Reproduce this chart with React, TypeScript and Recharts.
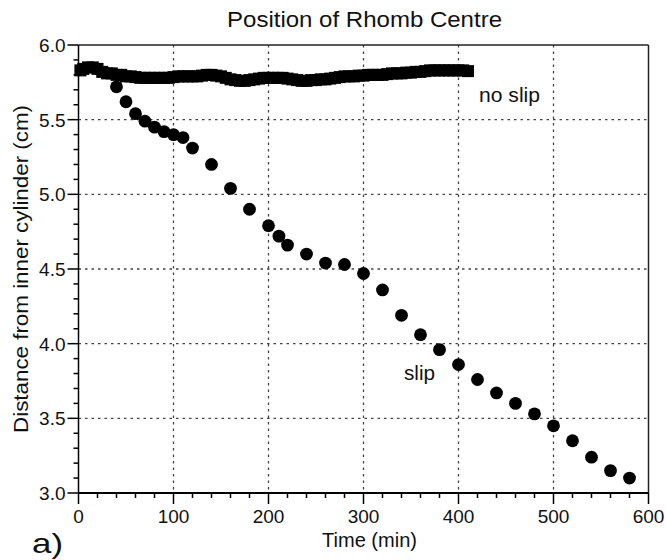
import { ScatterChart, Scatter, XAxis, YAxis, CartesianGrid, ReferenceLine } from 'recharts';

// no slip run (dense record, min -> cm)
const noSlipTime = [
  2, 5, 10, 15, 20, 25, 30, 35, 40, 45,
  50, 55, 60, 65, 70, 75, 80, 85, 90, 95,
  100, 105, 110, 115, 120, 125, 130, 135, 140, 145,
  150, 155, 160, 165, 170, 175, 180, 185, 190, 195,
  200, 205, 210, 215, 220, 225, 230, 235, 240, 245,
  250, 255, 260, 265, 270, 275, 280, 285, 290, 295,
  300, 305, 310, 315, 320, 325, 330, 335, 340, 345,
  350, 355, 360, 365, 370, 375, 380, 385, 390, 395,
  400, 405, 410,
];
const noSlipDist = [
  5.83, 5.84, 5.85, 5.85, 5.84, 5.82, 5.81, 5.81, 5.80, 5.80,
  5.79, 5.79, 5.785, 5.78, 5.78, 5.78, 5.78, 5.78, 5.78, 5.78,
  5.785, 5.79, 5.79, 5.79, 5.79, 5.79, 5.795, 5.80, 5.80, 5.795,
  5.79, 5.78, 5.77, 5.765, 5.76, 5.76, 5.765, 5.77, 5.775, 5.78,
  5.78, 5.78, 5.78, 5.78, 5.775, 5.77, 5.765, 5.76, 5.76, 5.765,
  5.765, 5.77, 5.77, 5.775, 5.78, 5.785, 5.79, 5.79, 5.79, 5.795,
  5.795, 5.80, 5.80, 5.80, 5.80, 5.805, 5.81, 5.81, 5.81, 5.815,
  5.815, 5.82, 5.82, 5.825, 5.83, 5.83, 5.83, 5.83, 5.83, 5.83,
  5.83, 5.83, 5.825,
];

// slip run
const slipTime = [40, 50, 60, 70, 80, 90, 100, 110, 120, 140, 160, 180, 200, 211, 220, 240, 260, 280, 300, 320, 340, 360, 380, 400, 420, 440, 460, 480, 500, 520, 540, 560, 580];
const slipDist = [5.72, 5.62, 5.54, 5.49, 5.45, 5.42, 5.40, 5.38, 5.31, 5.20, 5.04, 4.90, 4.79, 4.72, 4.66, 4.60, 4.54, 4.53, 4.47, 4.36, 4.19, 4.06, 3.96, 3.86, 3.76, 3.67, 3.60, 3.53, 3.45, 3.35, 3.24, 3.15, 3.10];

const xGrid = [100, 200, 300, 400, 500];
const yGrid = [3.5, 4.0, 4.5, 5.0, 5.5];
const xTicks = Array.from({ length: 31 }, (_, i) => i * 20);
const yTicks = Array.from({ length: 31 }, (_, i) => +(3 + i * 0.1).toFixed(1));

const FONT = '"Liberation Sans", Arial, Helvetica, sans-serif';

const noSlipData = noSlipTime.map((t, i) => ({ t, d: noSlipDist[i] }));
const slipData = slipTime.map((t, i) => ({ t, d: slipDist[i] }));

const XTick = (props: any) => {
  const { x, y, payload } = props;
  const major = payload.value % 100 === 0;
  return (
    <g>
      <line x1={x} x2={x} y1={y} y2={y + (major ? 11 : 5)} stroke="#000" strokeWidth={1.5} />
      {major && (
        <text x={x} y={y + 30} textAnchor="middle" fontSize={19} fill="#111" fontFamily={FONT}>
          {payload.value}
        </text>
      )}
    </g>
  );
};

const YTick = (props: any) => {
  const { x, y, payload } = props;
  const v = payload.value;
  const major = Math.abs(v * 2 - Math.round(v * 2)) < 1e-6;
  return (
    <g>
      <line x1={x - (major ? 11 : 5)} x2={x} y1={y} y2={y} stroke="#000" strokeWidth={1.5} />
      {major && (
        <text x={x - 13} y={y} dy="0.36em" textAnchor="end" fontSize={19} fill="#111" fontFamily={FONT}>
          {v.toFixed(1)}
        </text>
      )}
    </g>
  );
};

const Square = (p: any) => <rect x={p.cx - 6} y={p.cy - 6} width={12} height={12} fill="#000" />;
const Dot = (p: any) => <circle cx={p.cx} cy={p.cy} r={6.4} fill="#000" />;

export default function App() {
  return (
    <div style={{ position: 'absolute', left: 0, top: 0, width: 666, height: 560, background: '#fff' }}>
      <ScatterChart width={666} height={560} margin={{ top: 45, right: 17.5, bottom: 37, left: 0 }}>
        <CartesianGrid
          horizontalValues={yGrid}
          verticalValues={xGrid}
          stroke="#444"
          strokeWidth={1.3}
          strokeDasharray="2.5 4"
        />
        <XAxis
          type="number"
          dataKey="t"
          domain={[0, 600]}
          ticks={xTicks}
          interval={0}
          height={30}
          tickSize={0}
          tickMargin={0}
          tickLine={false}
          tick={<XTick />}
          axisLine={{ stroke: '#000', strokeWidth: 2 }}
        />
        <YAxis
          type="number"
          dataKey="d"
          domain={[3, 6]}
          ticks={yTicks}
          interval={0}
          width={78.5}
          tickSize={0}
          tickMargin={0}
          tickLine={false}
          tick={<YTick />}
          axisLine={{ stroke: '#000', strokeWidth: 1.5 }}
        />
        <ReferenceLine y={6} stroke="#222" strokeWidth={1.5} />
        <ReferenceLine x={600} stroke="#222" strokeWidth={1.5} />
        <Scatter data={noSlipData} shape={Square} isAnimationActive={false} />
        <Scatter data={slipData} shape={Dot} isAnimationActive={false} />
      </ScatterChart>
      <svg
        width={666}
        height={560}
        style={{ position: 'absolute', left: 0, top: 0, pointerEvents: 'none' }}
        fontFamily={FONT}
        fill="#111"
      >
        <text x={364.5} y={27} fontSize={22} textAnchor="middle" textLength={275} lengthAdjust="spacingAndGlyphs">
          Position of Rhomb Centre
        </text>
        <text x={369.5} y={547} fontSize={20} textAnchor="middle" textLength={95} lengthAdjust="spacingAndGlyphs">
          Time (min)
        </text>
        <text
          x={0}
          y={0}
          fontSize={20}
          textAnchor="middle"
          textLength={328}
          lengthAdjust="spacingAndGlyphs"
          transform="translate(28,269) rotate(-90)"
        >
          Distance from inner cylinder (cm)
        </text>
        <text x={479} y={102} fontSize={20} textLength={61} lengthAdjust="spacingAndGlyphs">
          no slip
        </text>
        <text x={404} y={380} fontSize={20} textLength={31} lengthAdjust="spacingAndGlyphs">
          slip
        </text>
        <text x={32} y={553} fontSize={28} textLength={31} lengthAdjust="spacingAndGlyphs">
          a)
        </text>
      </svg>
    </div>
  );
}
